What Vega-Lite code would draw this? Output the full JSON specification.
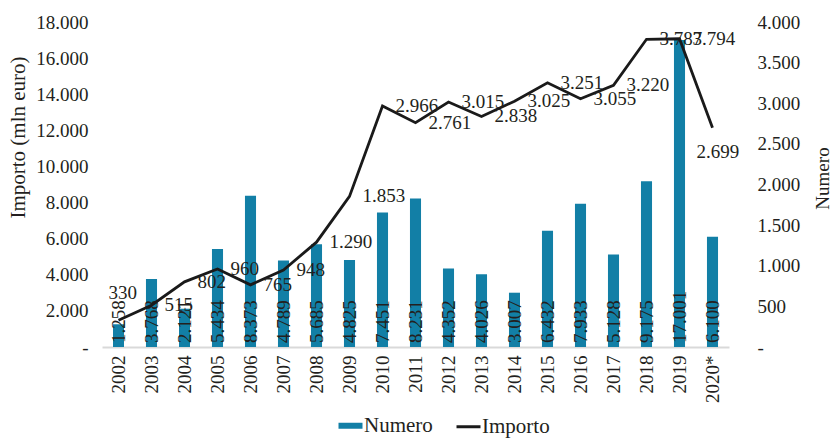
{
  "$schema": "https://vega.github.io/schema/vega-lite/v6.json",
  "width": 627,
  "height": 325,
  "autosize": {"type": "none"},
  "padding": {"left": 102, "top": 22, "right": 106, "bottom": 91},
  "background": "white",
  "config": {
    "locale": {"number": {"decimal": ",", "thousands": ".", "grouping": [3], "currency": ["", " €"]}},
    "view": {"stroke": null},
    "font": "Liberation Serif",
    "axis": {
      "labelFont": "Liberation Serif",
      "titleFont": "Liberation Serif",
      "labelColor": "#231f20",
      "titleColor": "#231f20",
      "labelFontSize": 19,
      "titleFontSize": 21,
      "titleFontWeight": "normal",
      "grid": false,
      "ticks": false,
      "labelOverlap": false
    },
    "legend": {"labelFont": "Liberation Serif", "labelFontSize": 21, "labelColor": "#231f20"}
  },
  "data": {
    "values": [
      {"Anno": "2002", "Importo": 1258, "Numero": 330},
      {"Anno": "2003", "Importo": 3768, "Numero": 515},
      {"Anno": "2004", "Importo": 2121, "Numero": 802},
      {"Anno": "2005", "Importo": 5434, "Numero": 960},
      {"Anno": "2006", "Importo": 8373, "Numero": 765},
      {"Anno": "2007", "Importo": 4789, "Numero": 948},
      {"Anno": "2008", "Importo": 5685, "Numero": 1290},
      {"Anno": "2009", "Importo": 4825, "Numero": 1853},
      {"Anno": "2010", "Importo": 7451, "Numero": 2966},
      {"Anno": "2011", "Importo": 8231, "Numero": 2761},
      {"Anno": "2012", "Importo": 4352, "Numero": 3015},
      {"Anno": "2013", "Importo": 4026, "Numero": 2838},
      {"Anno": "2014", "Importo": 3007, "Numero": 3025},
      {"Anno": "2015", "Importo": 6432, "Numero": 3251},
      {"Anno": "2016", "Importo": 7933, "Numero": 3055},
      {"Anno": "2017", "Importo": 5128, "Numero": 3220},
      {"Anno": "2018", "Importo": 9175, "Numero": 3787},
      {"Anno": "2019", "Importo": 17001, "Numero": 3794},
      {"Anno": "2020*", "Importo": 6100, "Numero": 2699}
    ]
  },
  "encoding": {
    "x": {
      "field": "Anno",
      "type": "ordinal",
      "sort": null,
      "scale": {"paddingInner": 0.665, "paddingOuter": 0.3325},
      "axis": {
        "title": null,
        "labelAngle": 270,
        "labelPadding": 8,
        "labelOverlap": false,
        "domainColor": "#d9d9d9",
        "domainWidth": 2
      }
    }
  },
  "layer": [
    {
      "layer": [
        {
          "mark": {"type": "bar", "color": "#127fa6"},
          "encoding": {
            "y": {
              "field": "Importo",
              "type": "quantitative",
              "scale": {"domain": [0, 18000]},
              "axis": {
                "title": "Importo (mln euro)",
                "values": [0, 2000, 4000, 6000, 8000, 10000, 12000, 14000, 16000, 18000],
                "format": ",d",
                "labelExpr": "datum.value === 0 ? '-' : datum.label",
                "labelOverlap": false,
                "labelFlush": false,
                "domain": false,
                "labelPadding": 14,
                "titleAngle": 270,
                "titleX": -84,
                "titleY": 115,
                "titleAlign": "center",
                "titleBaseline": "middle"
              }
            },
            "color": {
              "datum": "Numero",
              "type": "nominal",
              "scale": {"domain": ["Numero", "Importo"], "range": ["#127fa6", "#1a1a1a"]},
              "legend": {
                "orient": "none",
                "legendX": 238,
                "legendY": 393,
                "direction": "horizontal",
                "title": null,
                "symbolType": "stroke",
                "symbolSize": 576,
                "labelOffset": 3,
                "columnPadding": 17,
                "padding": 0,
                "encode": {
                  "symbols": {
                    "update": {
                      "strokeWidth": {"signal": "datum.value === 'Numero' ? 6 : 3"},
                      "stroke": {"signal": "datum.value === 'Numero' ? '#127fa6' : '#1a1a1a'"}
                    }
                  }
                }
              }
            }
          }
        },
        {
          "mark": {"type": "text", "angle": 270, "align": "left", "baseline": "middle", "dx": 4, "fontSize": 19, "color": "#231f20", "font": "Liberation Serif"},
          "encoding": {
            "y": {
              "datum": 0,
              "type": "quantitative",
              "axis": {
                "title": "Importo (mln euro)",
                "values": [0, 2000, 4000, 6000, 8000, 10000, 12000, 14000, 16000, 18000],
                "format": ",d",
                "labelExpr": "datum.value === 0 ? '-' : datum.label",
                "labelOverlap": false,
                "labelFlush": false,
                "domain": false,
                "labelPadding": 14,
                "titleAngle": 270,
                "titleX": -84,
                "titleY": 115,
                "titleAlign": "center",
                "titleBaseline": "middle"
              }
            },
            "text": {"field": "Importo", "type": "quantitative", "format": ",d"}
          }
        }
      ]
    },
    {
      "layer": [
        {
          "mark": {"type": "line", "strokeWidth": 2.8},
          "encoding": {
            "y": {
              "field": "Numero",
              "type": "quantitative",
              "scale": {"domain": [0, 4000]},
              "axis": {
                "orient": "right",
                "title": "Numero",
                "titleFontSize": 19,
                "values": [0, 500, 1000, 1500, 2000, 2500, 3000, 3500, 4000],
                "format": ",d",
                "labelExpr": "datum.value === 0 ? '-' : datum.label",
                "labelOverlap": false,
                "labelFlush": false,
                "domain": false,
                "labelPadding": 28,
                "titleAngle": 270,
                "titleX": 93,
                "titleY": 156,
                "titleAlign": "center",
                "titleBaseline": "middle"
              }
            },
            "color": {"datum": "Importo", "type": "nominal"}
          }
        },
        {
          "transform": [{"filter": "datum.Anno !== '2002' && datum.Anno !== '2020*'"}],
          "mark": {"type": "text", "align": "left", "baseline": "middle", "dx": 13, "fontSize": 19, "color": "#231f20", "font": "Liberation Serif"},
          "encoding": {
            "y": {"field": "Numero", "type": "quantitative"},
            "text": {"field": "Numero", "type": "quantitative", "format": ",d"}
          }
        },
        {
          "transform": [{"filter": "datum.Anno === '2002'"}],
          "mark": {"type": "text", "align": "left", "baseline": "middle", "dx": -10, "dy": -27, "fontSize": 19, "color": "#231f20", "font": "Liberation Serif"},
          "encoding": {
            "y": {"field": "Numero", "type": "quantitative"},
            "text": {"field": "Numero", "type": "quantitative", "format": ",d"}
          }
        },
        {
          "transform": [{"filter": "datum.Anno === '2020*'"}],
          "mark": {"type": "text", "align": "left", "baseline": "middle", "dx": -16, "dy": 24, "fontSize": 19, "color": "#231f20", "font": "Liberation Serif"},
          "encoding": {
            "y": {"field": "Numero", "type": "quantitative"},
            "text": {"field": "Numero", "type": "quantitative", "format": ",d"}
          }
        }
      ]
    }
  ],
  "resolve": {"scale": {"y": "independent"}}
}
